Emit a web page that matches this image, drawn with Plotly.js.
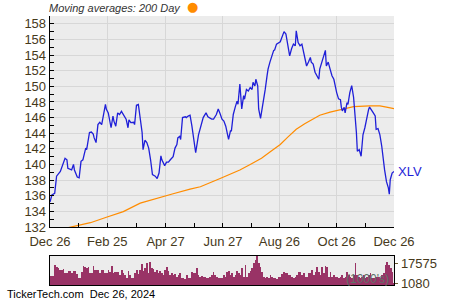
<!DOCTYPE html>
<html>
<head>
<meta charset="utf-8">
<script src="https://cdn.plot.ly/plotly-3.0.1.min.js"></script>
<style>html,body{margin:0;padding:0;background:#fff;}#chart{width:450px;height:300px;}</style>
</head>
<body>
<div id="chart"></div>
<script>
// Day offsets from Dec 26, 2023 and XLV closing prices
const priceDays = [0,2,5,7,11,14,16,18,19,23,25,26,29,31,33,35,38,39,42,44,46,47,49,51,53,55,57,59,60,62,65,67,68,70,72,74,76,78,81,83,84,86,89,90,92,94,98,99,101,103,105,107,109,112,114,116,118,119,122,124,126,128,131,133,135,136,138,139,141,144,145,147,149,151,153,155,158,160,161,163,166,168,172,174,177,179,181,183,185,187,190,192,193,195,197,199,200,202,204,206,207,209,211,213,215,216,218,219,221,222,224,226,229,231,232,234,236,238,239,241,245,246,249,251,253,255,257,259,261,262,264,266,268,270,271,273,275,277,278,280,282,284,286,287,289,291,293,294,296,298,300,302,303,305,307,309,310,311,313,314,316,317,319,321,323,324,325,326,327,329,331,332,333,335,337,339,340,342,344,346,347,349,351,353,354,355,356,358,360,361,362,364,366];
const priceVals = [135.2,136.1,136.3,138.5,139.1,140.3,140.8,140.6,139.5,139.3,140.0,139.3,138.4,138.3,140.4,140.6,142.1,141.9,144.1,144.15,143.9,143.4,142.8,145.1,145.4,145.1,146.6,147.7,147.05,146.6,144.7,146.2,145.55,144.9,146.6,146.4,146.8,146.4,145.8,144.7,145.7,145.35,145.4,145.1,147.6,147.7,144.1,141.9,143.1,142.8,142.1,140.6,138.7,138.5,138.2,138.9,141.1,140.6,139.85,140.3,140.3,140.6,141.0,142.1,142.55,143.4,143.6,143.2,146.0,146.1,146.0,146.2,146.3,144.9,142.8,141.5,143.8,144.7,144.9,146.0,146.6,146.1,145.8,145.8,146.4,147.1,146.5,145.8,145.55,144.9,143.2,144.3,144.3,146.4,147.3,148.1,147.7,150.3,147.1,148.8,148.35,149.6,149.4,149.85,149.6,150.5,150.05,150.9,150.05,147.1,145.9,147.3,149.6,151.4,152.2,153.1,153.9,154.6,154.65,155.4,155.7,156.1,157.0,156.7,155.2,153.9,154.8,155.4,155.2,157.1,155.6,155.2,155.4,154.3,154.1,152.6,153.1,153.7,153.1,152.85,151.8,151.35,150.9,152.2,153.1,153.9,154.6,152.6,153.1,152.2,151.35,150.9,150.3,149.2,148.4,148.3,147.3,146.85,147.3,146.6,147.9,147.7,149.2,150.1,148.6,147.3,146.4,144.1,141.7,141.9,141.05,142.8,143.8,144.7,146.0,147.05,147.35,147.05,146.6,146.2,144.5,144.6,143.8,142.3,141.05,140.6,139.3,137.8,137.0,136.2,138.05,138.9,139.1];

// 200-day moving average
const maDays = [0,23,43,60,78,96,114,131,149,160,181,202,213,225,234,245,253,262,271,280,287,298,309,323,340,351,358,366];
const maVals = [131.4,132.05,132.55,133.25,133.97,135.05,135.7,136.25,136.85,137.15,138.2,139.3,140.0,140.8,141.6,142.55,143.5,144.5,145.2,145.8,146.3,146.7,147.0,147.4,147.5,147.5,147.35,147.15];

// Volume (1000's), in date order across the year
const volumes = [7450,7450,7450,16550,15200,13800,12400,12400,13000,10200,10200,12000,11900,9650,11900,11900,8900,5500,5500,11000,16000,15200,13800,14500,9650,10200,15700,12400,12400,12400,10200,12400,12400,10200,10200,12400,11000,15700,10200,11000,11000,11000,8300,12400,10200,8300,5500,11900,8300,5500,5500,9650,12400,9100,12400,17400,11900,13800,17900,9650,19300,13800,13000,11000,12400,10200,11900,10200,8300,12400,15200,11900,8300,10200,8300,9100,6900,8300,9650,5500,5500,4700,8300,5500,5500,11000,10200,10200,13800,8300,6900,7450,6350,6900,5500,5500,6350,8300,11000,8300,6900,5500,5500,5500,8300,6900,11000,11900,8300,9650,6900,8300,11900,9650,8300,13800,6900,16550,6350,9650,11900,13800,17900,20700,24000,17900,15200,11000,6900,5500,6900,5500,8300,6350,5500,5500,4700,6350,6900,9100,11000,9650,10200,8300,8300,6900,5500,6900,8300,11000,11000,8300,9650,6350,6900,9650,9650,12400,8300,11000,15200,11000,8300,15200,9650,15700,15200,6900,11000,6900,8300,6350,6900,5500,6350,8300,5500,6900,11000,8300,6900,5500,8300,17900,8300,6900,5500,6900,8300,5500,6900,8300,9650,5500,5500,6900,6900,6350,5500,8300,9650,16550,19300,16550,13800,11000,1400];

// Axis labels
const xTickDays = [0,61,123,184,244,305,366];
const xTickText = ['Dec 26','Feb 25','Apr 27','Jun 27','Aug 26','Oct 26','Dec 26'];
const volTickVals = [1080,17575];
const volTickText = ['1080','17575'];

const totalDays = 366;
const volStep = totalDays / (volumes.length - 1);
const volDays = volumes.map((v, i) => i * volStep);
const xMinor = xTickDays.slice(1).map((d, i) => (d + xTickDays[i]) / 2);

const labelColor = '#46391b';
const FONT = 'Arial, "Liberation Sans", sans-serif';

const traces = [
  {x: maDays, y: maVals, type: 'scatter', mode: 'lines', line: {color: '#ff8c00', width: 1.2}, xaxis: 'x', yaxis: 'y', hoverinfo: 'skip'},
  {x: priceDays, y: priceVals, type: 'scatter', mode: 'lines', line: {color: '#1f1fd8', width: 1.3}, xaxis: 'x', yaxis: 'y', hoverinfo: 'skip'},
  {x: volDays, y: volumes, type: 'bar', width: volStep, marker: {color: '#993366', line: {width: 0}}, xaxis: 'x2', yaxis: 'y2', hoverinfo: 'skip'}
];

const mainBottom = 58 / 269;
const volTop = 29 / 269;

const layout = {
  width: 450, height: 300,
  margin: {l: 50, r: 56, t: 16, b: 15, pad: 0},
  paper_bgcolor: '#ffffff',
  plot_bgcolor: '#ececec',
  showlegend: false,
  bargap: 0,
  font: {family: FONT, size: 13, color: labelColor},
  xaxis: {
    domain: [0, 1], anchor: 'y', range: [0, totalDays],
    tickmode: 'array', tickvals: xTickDays, ticktext: xTickText,
    ticks: 'inside', ticklen: 4, tickcolor: '#000', tickwidth: 1,
    ticklabelstandoff: 2,
    showline: true, linecolor: '#000', linewidth: 1.3,
    showgrid: true, gridcolor: '#d7d7d7', gridwidth: 1,
    zeroline: false,
    tickfont: {family: FONT, size: 13, color: labelColor},
    minor: {tickmode: 'array', tickvals: xMinor, ticks: 'inside', ticklen: 4, tickcolor: '#000', showgrid: false}
  },
  yaxis: {
    domain: [mainBottom, 1], anchor: 'x', range: [132, 159],
    tickmode: 'linear', tick0: 132, dtick: 2,
    ticks: 'inside', ticklen: 4, tickcolor: '#000', tickwidth: 1,
    showline: true, linecolor: '#000', linewidth: 1.3,
    showgrid: true, gridcolor: '#d7d7d7', gridwidth: 1,
    zeroline: false,
    tickfont: {family: FONT, size: 13, color: labelColor},
    minor: {tick0: 132, dtick: 1, ticks: 'inside', ticklen: 4, tickcolor: '#000', showgrid: false}
  },
  xaxis2: {
    domain: [0, 1], anchor: 'y2', range: [0, totalDays],
    showticklabels: false, ticks: '',
    showline: true, mirror: true, linecolor: '#000', linewidth: 1.3,
    showgrid: false, zeroline: false
  },
  yaxis2: {
    domain: [0, volTop], anchor: 'x2', range: [0, 24000], side: 'right',
    tickmode: 'array', tickvals: volTickVals, ticktext: volTickText,
    ticks: 'outside', ticklen: 3, tickcolor: '#6a5a30',
    showline: true, mirror: true, linecolor: '#000', linewidth: 1.3,
    showgrid: false, zeroline: false,
    tickfont: {family: FONT, size: 13, color: labelColor}
  },
  annotations: [
    {xref: 'paper', yref: 'paper', x: 0, y: 1.0297, xanchor: 'left', yanchor: 'middle', showarrow: false,
     xshift: -2, borderpad: 0,
     text: '<i>Moving averages: 200 Day</i>', font: {family: FONT, size: 11, color: '#333333'}},
    {xref: 'paper', yref: 'paper', x: 0.4128, y: 1.036, xanchor: 'center', yanchor: 'middle', showarrow: false,
     text: '●', font: {family: '"DejaVu Sans", sans-serif', size: 13, color: '#ff8c00'}},
    {xref: 'x', yref: 'y', x: priceDays[priceDays.length - 1], y: priceVals[priceVals.length - 1],
     xanchor: 'left', yanchor: 'middle', xshift: 2, showarrow: false, text: 'XLV',
     font: {family: FONT, size: 13, color: '#1f1fd8'}},
    {xref: 'paper', yref: 'y2', x: 1, y: 5000, xanchor: 'right', yanchor: 'middle', xshift: -3, showarrow: false,
     text: "(1000's)", font: {family: FONT, size: 12, color: '#5f7268'}},
    {xref: 'paper', yref: 'paper', x: -0.1308, y: -0.034, xanchor: 'left', yanchor: 'middle', showarrow: false,
     text: 'TickerTech.com&nbsp;&nbsp;Dec 26, 2024', font: {family: FONT, size: 11, color: '#000000'}}
  ]
};

Plotly.newPlot('chart', traces, layout, {staticPlot: true, displayModeBar: false});
</script>
</body>
</html>
